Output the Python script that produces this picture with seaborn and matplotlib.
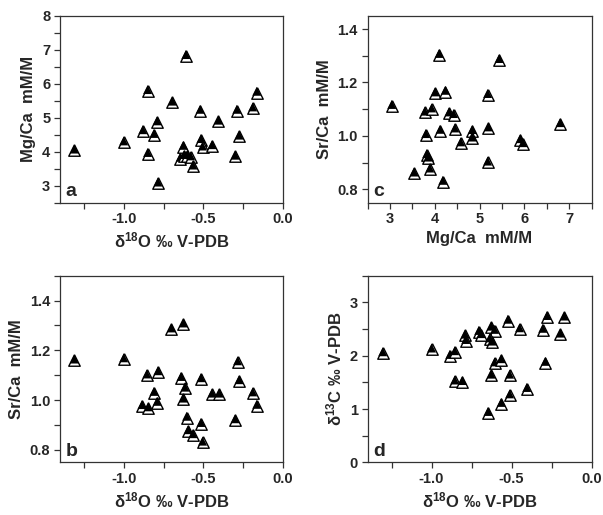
import numpy as np
import pandas as pd
import matplotlib
matplotlib.use("Agg")
import matplotlib.pyplot as plt
import seaborn as sns
from matplotlib.ticker import MultipleLocator

# Panel a: d18O vs Mg/Ca
a_d18o = [-1.31, -1.00, -0.88, -0.85, -0.85, -0.81, -0.79, -0.785, -0.695, -0.61,
          -0.625, -0.645, -0.62, -0.60, -0.58, -0.565, -0.52, -0.515, -0.505, -0.445,
          -0.405, -0.30, -0.29, -0.275, -0.19, -0.165]
a_mgca = [4.04, 4.28, 4.61, 5.79, 3.94, 4.50, 4.87, 3.07, 5.45, 6.82,
          4.15, 3.80, 3.88, 3.88, 3.84, 3.57, 5.21, 4.35, 4.13, 4.17,
          4.89, 3.86, 5.21, 4.45, 5.28, 5.74]

# Panel b: d18O vs Sr/Ca
b_d18o = [-1.31, -1.00, -0.885, -0.845, -0.855, -0.81, -0.79, -0.785, -0.70, -0.625,
          -0.64, -0.615, -0.625, -0.605, -0.595, -0.565, -0.515, -0.515, -0.505, -0.445,
          -0.40, -0.285, -0.275, -0.30, -0.19, -0.165]
b_srca = [1.160, 1.165, 0.977, 0.968, 1.100, 1.030, 0.990, 1.113, 1.285, 1.305,
          1.090, 1.047, 1.003, 0.930, 0.876, 0.860, 1.085, 0.905, 0.830, 1.023,
          1.023, 1.153, 1.077, 0.920, 1.028, 0.978]

# Panel c: Mg/Ca vs Sr/Ca
c_mgca = [3.04, 4.10, 5.44, 4.01, 4.24, 5.18, 3.78, 3.93, 4.32, 4.42,
          3.80, 4.12, 4.45, 4.84, 4.84, 5.20, 4.58, 3.82, 3.86, 3.89,
          3.54, 4.18, 5.18, 5.91, 5.97, 6.80]
c_srca = [1.113, 1.304, 1.285, 1.160, 1.166, 1.154, 1.088, 1.100, 1.085, 1.079,
          1.004, 1.020, 1.025, 1.019, 0.991, 1.029, 0.973, 0.929, 0.916, 0.875,
          0.860, 0.829, 0.901, 0.985, 0.970, 1.045]

# Panel d: d18O vs d13C
d_d18o = [-1.305, -1.00, -0.886, -0.855, -0.855, -0.807, -0.79, -0.786, -0.705, -0.69,
          -0.627, -0.606, -0.637, -0.62, -0.627, -0.647, -0.606, -0.564, -0.564, -0.523,
          -0.512, -0.512, -0.45, -0.405, -0.305, -0.288, -0.278, -0.195, -0.17]
d_d13c = [2.05, 2.12, 2.00, 2.07, 1.52, 1.51, 2.38, 2.28, 2.45, 2.39,
          2.53, 2.47, 2.31, 2.25, 1.63, 0.93, 1.86, 1.92, 1.10, 2.66,
          1.63, 1.26, 2.50, 1.38, 2.49, 1.87, 2.73, 2.40, 2.72]

sns.set_style("ticks")
plt.rcParams['font.family'] = ['Liberation Sans', 'DejaVu Sans']
plt.rcParams['font.weight'] = 'bold'
plt.rcParams['mathtext.fontset'] = 'custom'
plt.rcParams['mathtext.rm'] = 'Liberation Sans:bold'
plt.rcParams['mathtext.it'] = 'Liberation Sans:bold'
plt.rcParams['mathtext.bf'] = 'Liberation Sans:bold'

# two-tone triangle: white outline triangle with a black upper part
tri_full = [(0, 1), (-1, -1), (1, -1), (0, 1)]
tri_top = [(0, 1), (-0.78, -0.56), (0.78, -0.56), (0, 1)]

d18o_label = "δ$^{18}$O ‰ V-PDB"

fig = plt.figure(figsize=(6.03, 5.15), dpi=100)
ax_a = fig.add_axes([0.0995, 0.6064, 0.3698, 0.3631])
ax_c = fig.add_axes([0.6095, 0.6064, 0.3715, 0.3631])
ax_b = fig.add_axes([0.0995, 0.1023, 0.3698, 0.3623])
ax_d = fig.add_axes([0.6095, 0.1023, 0.3715, 0.3623])

panels = [
    (ax_a, a_d18o, a_mgca, "a", d18o_label, "Mg/Ca  mM/M", (-1.4, 0.0), (2.5, 8.0), 0.5, 0.25, 1.0, 0.5, "%.1f", "%d"),
    (ax_b, b_d18o, b_srca, "b", d18o_label, "Sr/Ca  mM/M", (-1.4, 0.0), (0.75, 1.5), 0.5, 0.25, 0.2, 0.1, "%.1f", "%.1f"),
    (ax_c, c_mgca, c_srca, "c", "Mg/Ca  mM/M", "Sr/Ca  mM/M", (2.5, 7.5), (0.75, 1.45), 1.0, 0.5, 0.2, 0.1, "%d", "%.1f"),
    (ax_d, d_d18o, d_d13c, "d", d18o_label, "δ$^{13}$C ‰ V-PDB", (-1.4, 0.0), (0.0, 3.5), 0.5, 0.25, 1.0, 0.5, "%.1f", "%d"),
]

for ax, xs, ys, letter, xlab, ylab, xlim, ylim, xmaj, xmin, ymaj, ymin, xfmt, yfmt in panels:
    df = pd.DataFrame({"x": xs, "y": ys})
    for i in range(len(df)):
        row = df.iloc[[i]]
        sns.scatterplot(data=row, x="x", y="y", ax=ax, marker=tri_full, s=68,
                        facecolor="white", edgecolor="black", linewidth=1.0, zorder=3)
        sns.scatterplot(data=row, x="x", y="y", ax=ax, marker=tri_top, s=68,
                        color="black", edgecolor="none", linewidth=0, zorder=3)
    ax.set_xlim(*xlim)
    ax.set_ylim(*ylim)
    ax.xaxis.set_major_locator(MultipleLocator(xmaj))
    ax.xaxis.set_minor_locator(MultipleLocator(xmin))
    ax.yaxis.set_major_locator(MultipleLocator(ymaj))
    ax.yaxis.set_minor_locator(MultipleLocator(ymin))
    ax.xaxis.set_major_formatter(matplotlib.ticker.FormatStrFormatter(xfmt))
    ax.yaxis.set_major_formatter(matplotlib.ticker.FormatStrFormatter(yfmt))
    ax.tick_params(which="both", direction="out", length=4, width=0.9, color="#333333",
                   top=False, right=False, labelsize=10.5, pad=3)
    for sp in ax.spines.values():
        sp.set_visible(True)
        sp.set_linewidth(0.9)
        sp.set_color("#333333")
    ax.set_xlabel(xlab, fontsize=12, fontweight="bold", labelpad=3)
    ax.set_ylabel(ylab, fontsize=12, fontweight="bold", labelpad=4)
    ax.text(0.025, 0.015, letter, transform=ax.transAxes, ha="left", va="bottom",
            fontsize=14, fontweight="bold")
    ax.grid(False)

fig.savefig("out.png", dpi=100)
